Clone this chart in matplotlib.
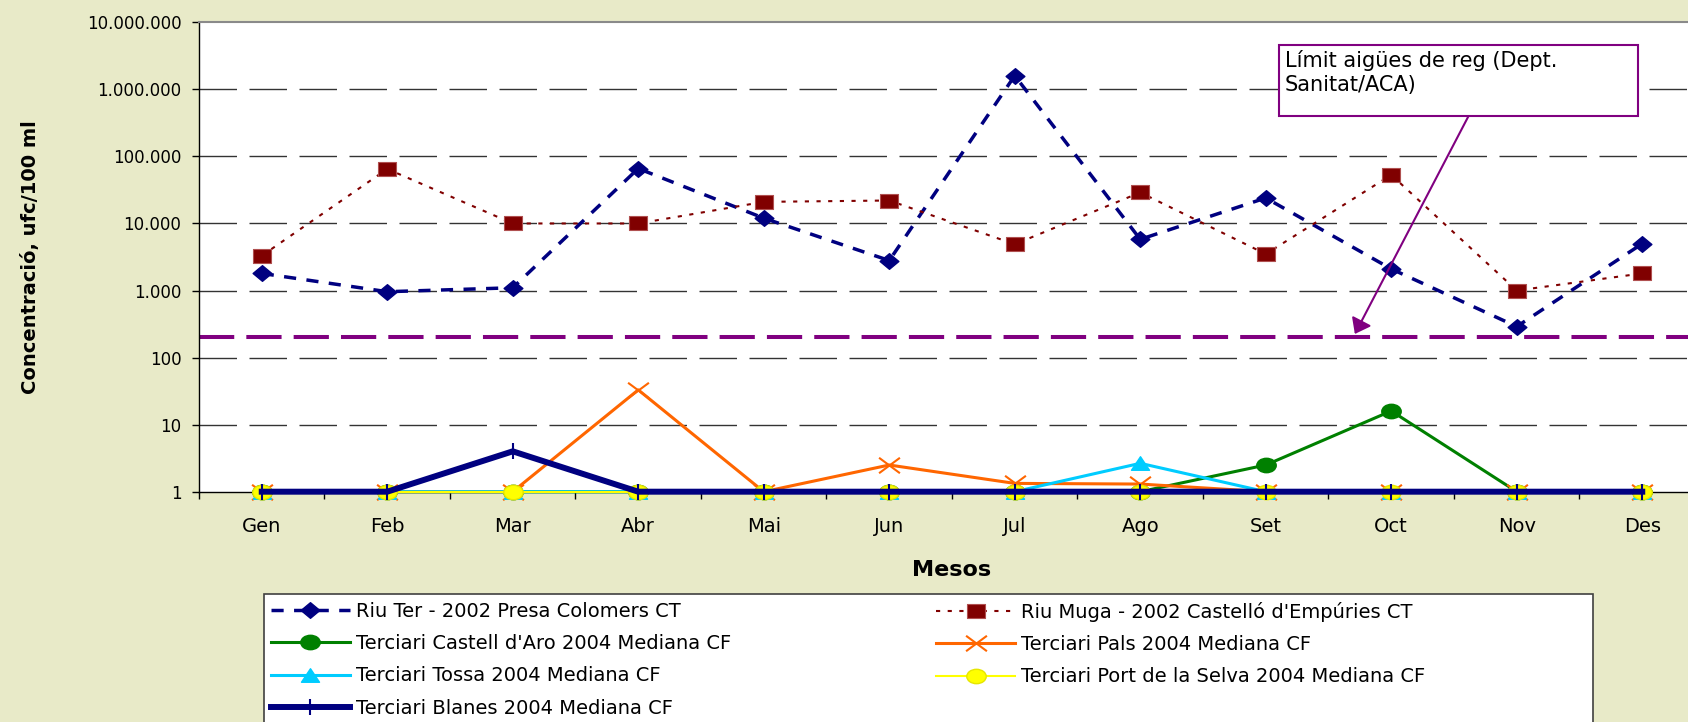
import numpy as np
import matplotlib
import matplotlib.pyplot as plt
from matplotlib.path import Path
from matplotlib.transforms import Affine2D
from matplotlib.ticker import FixedLocator, FuncFormatter, NullLocator
from matplotlib.patches import Rectangle

# dades (ufc/100 ml)
MESOS = ['Gen', 'Feb', 'Mar', 'Abr', 'Mai', 'Jun', 'Jul', 'Ago', 'Set', 'Oct', 'Nov', 'Des']
riu_ter = [1800, 960, 1100, 66000, 12000, 2800, 1600000, 5800, 24000, 2100, 290, 5000]
riu_muga = [3300, 65000, 10000, 10000, 21000, 22000, 4900, 29000, 3500, 53000, 1000, 1800]
castell_aro = [1, 1, 1, 1, 1, 1, 1, 1, 2.5, 16, 1, 1]
pals = [1, 1, 1, 33, 1, 2.5, 1.33, 1.3, 1, 1, 1, 1]
tossa = [1, 1, 1, 1, 1, 1, 1, 2.65, 1, 1, 1, 1]
port_selva = [1, 1, 1, 1, 1, 1, 1, 1, 1, 1, 1, 1]
blanes = [1, 1, 4, 1, 1, 1, 1, 1, 1, 1, 1, 1]
LIMIT = 200
YTICKS = [1, 10, 100, 1000, 10000, 100000, 1000000, 10000000]

BG = '#e8eac8'

# marcadors una mica aixafats (com a l'original)
def marker(verts, codes=None):
    return Path(verts, codes)

ELLIPSE = Path.unit_circle().transformed(Affine2D().scale(1.35, 1.0))
DIAMOND = marker([(0, 1), (1.2, 0), (0, -1), (-1.2, 0), (0, 1)],
                 [Path.MOVETO, Path.LINETO, Path.LINETO, Path.LINETO, Path.CLOSEPOLY])
SQUARE = marker([(-1.3, -1), (1.3, -1), (1.3, 1), (-1.3, 1), (-1.3, -1)],
                [Path.MOVETO, Path.LINETO, Path.LINETO, Path.LINETO, Path.CLOSEPOLY])
TRIANGLE = marker([(0, 0.75), (1, -0.75), (-1, -0.75), (0, 0.75)],
                  [Path.MOVETO, Path.LINETO, Path.LINETO, Path.CLOSEPOLY])
CROSS = marker([(-1.35, -1), (1.35, 1), (-1.35, 1), (1.35, -1)],
               [Path.MOVETO, Path.LINETO, Path.MOVETO, Path.LINETO])

fig = plt.figure(figsize=(16.88, 7.22), dpi=100, facecolor=BG)
ax = fig.add_axes([0.11789, 0.31898, 0.89218, 0.65014])
ax.set_facecolor('white')
ax.set_yscale('log')
ax.set_ylim(1, 1e7)
ax.set_xlim(-0.5, 11.5)
x = np.arange(len(MESOS))

ax.axhline(LIMIT, color='#800080', lw=2.9, linestyle=(0, (8.75, 3)), zorder=2.5)

l_ter, = ax.plot(x, riu_ter, color='#000080', lw=2.5, linestyle=(0, (3.5, 3)),
                 marker=DIAMOND, ms=13.5, mfc='#000080', mec='#000080',
                 label='Riu Ter - 2002 Presa Colomers CT', clip_on=False, zorder=3)
l_muga, = ax.plot(x, riu_muga, color='#800000', lw=1.5, linestyle=(0, (2, 3.6)),
                  marker=SQUARE, ms=13.5, mfc='#800000', mec='#b05050', mew=0.8,
                  label="Riu Muga - 2002 Castelló d'Empúries CT", clip_on=False, zorder=3.1)
l_aro, = ax.plot(x, castell_aro, color='#008000', lw=2.2, marker=ELLIPSE, ms=14,
                 mfc='#008000', mec='#008000',
                 label="Terciari Castell d'Aro 2004 Mediana CF", clip_on=False, zorder=3.2)
l_pals, = ax.plot(x, pals, color='#ff6600', lw=2.2, marker=CROSS, ms=15, mfc='none',
                  mec='#ff6600', mew=1.5,
                  label='Terciari Pals 2004 Mediana CF', clip_on=False, zorder=3.3)
l_tossa, = ax.plot(x, tossa, color='#00ccff', lw=2.2, marker=TRIANGLE, ms=13,
                   mfc='#00ccff', mec='#00ccff',
                   label='Terciari Tossa 2004 Mediana CF', clip_on=False, zorder=3.4)
l_port, = ax.plot(x, port_selva, color='#ffff00', lw=1.5, marker=ELLIPSE, ms=14,
                  mfc='#ffff00', mec='#e6e600',
                  label='Terciari Port de la Selva 2004 Mediana CF', clip_on=False, zorder=3.5)
l_bla, = ax.plot(x, blanes, color='#000080', lw=4.3, marker='|', ms=12, mew=1.5,
                 mec='#000080', label='Terciari Blanes 2004 Mediana CF',
                 clip_on=False, zorder=3.6)

# eixos
ax.yaxis.set_major_locator(FixedLocator(YTICKS))
ax.yaxis.set_minor_locator(NullLocator())
ax.yaxis.set_major_formatter(FuncFormatter(lambda v, p: f'{int(round(v)):,}'.replace(',', '.')))
ax.tick_params(axis='y', which='major', length=4.7, width=1, direction='out',
               labelsize=12, pad=8)
ax.set_xticks(x)
ax.set_xticklabels(MESOS)
ax.set_xticks(np.arange(-0.5, 12, 1), minor=True)
ax.tick_params(axis='x', which='major', length=0, pad=18, labelsize=14)
ax.tick_params(axis='x', which='minor', length=4.7, width=1, direction='out')

ax.set_axisbelow(True)
ax.yaxis.grid(True, which='major', color='#333333', lw=1, linestyle=(0, (27, 9)))
yt = ax.yaxis.get_major_ticks()
yt[0].gridline.set_visible(False)
yt[-1].gridline.set_visible(False)

ax.spines['right'].set_visible(False)
ax.spines['top'].set_color('#8a8a8a')
ax.spines['top'].set_linewidth(1.5)
ax.spines['left'].set_linewidth(1)
ax.spines['bottom'].set_linewidth(1)

ax.set_ylabel('Concentració, ufc/100 ml', fontsize=14, fontweight='bold')
ax.yaxis.set_label_coords(-0.1122, 0.5)
ax.yaxis.label.set_va('center')
ax.set_xlabel('Mesos', fontsize=16, fontweight='bold')
ax.xaxis.set_label_coords(0.5, -0.1668)
ax.xaxis.label.set_va('center')

# nota del límit
ax.add_patch(Rectangle((0.7169, 0.8004), 0.2386, 0.1512, transform=ax.transAxes,
                       fc='white', ec='#800080', lw=1.5, zorder=6))
ax.text(0.7211, 0.942, 'Límit aigües de reg (Dept.\nSanitat/ACA)', transform=ax.transAxes,
        ha='left', va='top', fontsize=15, zorder=7, linespacing=1.25)
ax.annotate('', xy=(8.71, 225), xycoords='data', xytext=(0.843, 0.8004),
            textcoords='axes fraction',
            arrowprops=dict(arrowstyle='-|>,head_length=0.4,head_width=0.3',
                            color='#800080', lw=1.5, mutation_scale=22,
                            shrinkA=0, shrinkB=0), zorder=7)

# llegenda
fig.add_artist(Rectangle((264 / 1688, -0.05), (1593 - 264) / 1688, 0.05 + (722 - 594) / 722,
                         transform=fig.transFigure, fc='white', ec='#404040', lw=1.2))
common = dict(loc='upper left', frameon=False, fontsize=14, handlelength=4.07,
              handletextpad=0.3, labelspacing=0.68, borderpad=0, borderaxespad=0,
              numpoints=1)
fig.legend(handles=[l_ter, l_aro, l_tossa, l_bla],
           bbox_to_anchor=(270.7 / 1688, (722 - 602) / 722), **common)
fig.legend(handles=[l_muga, l_pals, l_port],
           bbox_to_anchor=(936 / 1688, (722 - 602) / 722), **common)

fig.savefig('out.png', dpi=100, facecolor=BG)
